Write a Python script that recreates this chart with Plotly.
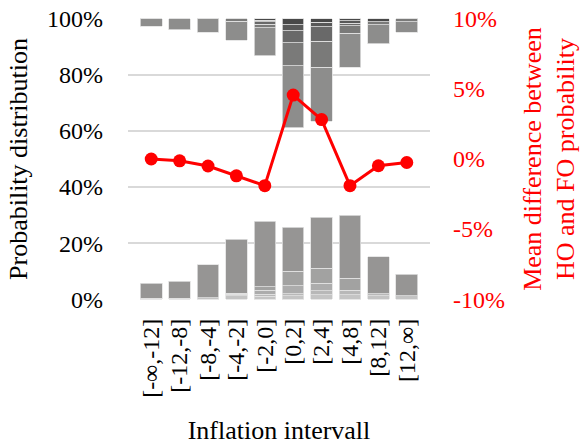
import plotly.graph_objects as go

categories = ["[-∞,-12]", "[-12,-8]", "[-8,-4]", "[-4,-2]", "[-2,0]",
              "[0,2]", "[2,4]", "[4,8]", "[8,12]", "[12,∞]"]

# bottom stack layers (percent), from the axis upward
bottom_1 = [0.4, 0.4, 0.5, 1.2, 1.0, 1.2, 1.5, 1.5, 1.2, 1.2]
bottom_2 = [0.0, 0.0, 0.0, 0.5, 0.8, 0.8, 1.5, 1.7, 0.8, 0.0]
bottom_3 = [0.0, 0.0, 0.0, 0.4, 1.4, 2.7, 2.6, 0.0, 0.0, 0.0]
bottom_4 = [0.0, 0.0, 0.0, 0.0, 1.3, 5.3, 5.4, 4.2, 0.0, 0.0]
bottom_5 = [5.2, 6.0, 11.8, 19.2, 23.3, 15.6, 18.3, 22.5, 13.1, 7.6]

# top stack layers (percent), from the gap upward to 100%
top_1 = [2.7, 3.9, 4.8, 6.7, 10.1, 22.0, 19.4, 12.1, 6.7, 3.7]
top_2 = [0.0, 0.0, 0.0, 0.9, 1.2, 8.2, 9.2, 2.7, 1.1, 1.1]
top_3 = [0.0, 0.0, 0.0, 0.0, 0.8, 4.3, 5.1, 1.0, 0.0, 0.0]
top_4 = [0.0, 0.0, 0.0, 0.0, 0.6, 2.2, 1.6, 0.8, 0.0, 0.0]
top_5 = [0.0, 0.0, 0.0, 0.0, 0.5, 2.1, 1.3, 0.7, 1.0, 0.0]

# mean difference between HO and FO probability (percent)
mean_diff = [0.0, -0.13, -0.5, -1.2, -1.9, 4.56, 2.81, -1.9, -0.48, -0.25]

left_tickvals = [0, 20, 40, 60, 80, 100]
left_ticktext = ["0%", "20%", "40%", "60%", "80%", "100%"]
right_tickvals = [-10, -5, 0, 5, 10]
right_ticktext = ["-10%", "-5%", "0%", "5%", "10%"]

bottom_layers = [bottom_1, bottom_2, bottom_3, bottom_4, bottom_5]
top_layers = [top_1, top_2, top_3, top_4, top_5]
bottom_colors = ["rgb(196,196,196)", "rgb(184,184,184)", "rgb(172,172,172)",
                 "rgb(162,162,161)", "rgb(150,149,148)"]
top_colors = ["rgb(141,141,140)", "rgb(122,122,121)", "rgb(105,105,105)",
              "rgb(88,88,88)", "rgb(72,72,72)"]

gap = [100 - sum(b[i] for b in bottom_layers) - sum(t[i] for t in top_layers)
       for i in range(len(categories))]

FONT = "'Liberation Serif', 'Times New Roman', serif"
fig = go.Figure()
edge = dict(color="rgb(225,225,225)", width=0.8)
for vals, col in zip(bottom_layers, bottom_colors):
    fig.add_trace(go.Bar(x=categories, y=vals, marker=dict(color=col, line=edge),
                         showlegend=False))
fig.add_trace(go.Bar(x=categories, y=gap,
                     marker=dict(color="rgba(0,0,0,0)", line=dict(width=0)),
                     showlegend=False))
for vals, col in zip(top_layers, top_colors):
    fig.add_trace(go.Bar(x=categories, y=vals, marker=dict(color=col, line=edge),
                         showlegend=False))

fig.add_trace(go.Scatter(x=categories, y=mean_diff, yaxis="y2", mode="lines+markers",
                         line=dict(color="rgb(255,0,0)", width=3),
                         marker=dict(color="rgb(255,0,0)", size=13),
                         showlegend=False))

fig.update_layout(
    width=581, height=445,
    margin=dict(l=128, r=151, t=18, b=145),
    paper_bgcolor="white", plot_bgcolor="white",
    barmode="stack", bargap=0.24,
    font=dict(family=FONT, size=24, color="black"),
    xaxis=dict(
        type="category", tickangle=-90, showgrid=False, zeroline=False,
        showline=False, ticks="", ticklabelstandoff=13,
        tickmode="array", tickvals=categories, ticktext=categories,
        tickfont=dict(family=FONT, size=24),
        title=dict(text="Inflation intervall", font=dict(family=FONT, size=26), standoff=29),
        automargin=False,
    ),
    yaxis=dict(
        range=[-0.3, 100.3], tickvals=left_tickvals, ticktext=left_ticktext,
        showgrid=True, gridcolor="rgb(217,217,217)", gridwidth=1.5,
        zeroline=False, showline=False, ticks="", ticklabelstandoff=24,
        tickfont=dict(family=FONT, size=24),
        title=dict(text="Probability distribution", font=dict(family=FONT, size=26), standoff=11),
        automargin=False,
    ),
    yaxis2=dict(
        range=[-10.06, 10.06], tickvals=right_tickvals, ticktext=right_ticktext,
        overlaying="y", side="right", showgrid=False, zeroline=False,
        showline=False, ticks="", ticklabelstandoff=22,
        tickfont=dict(family=FONT, size=24, color="rgb(255,0,0)"),
        title=dict(text="Mean difference between<br>HO and FO probability",
                   font=dict(family=FONT, size=26, color="rgb(255,0,0)"), standoff=18),
        automargin=False,
    ),
)

fig.write_html("out.html", config={"displayModeBar": False},
               post_script="document.body.style.margin='0';")
